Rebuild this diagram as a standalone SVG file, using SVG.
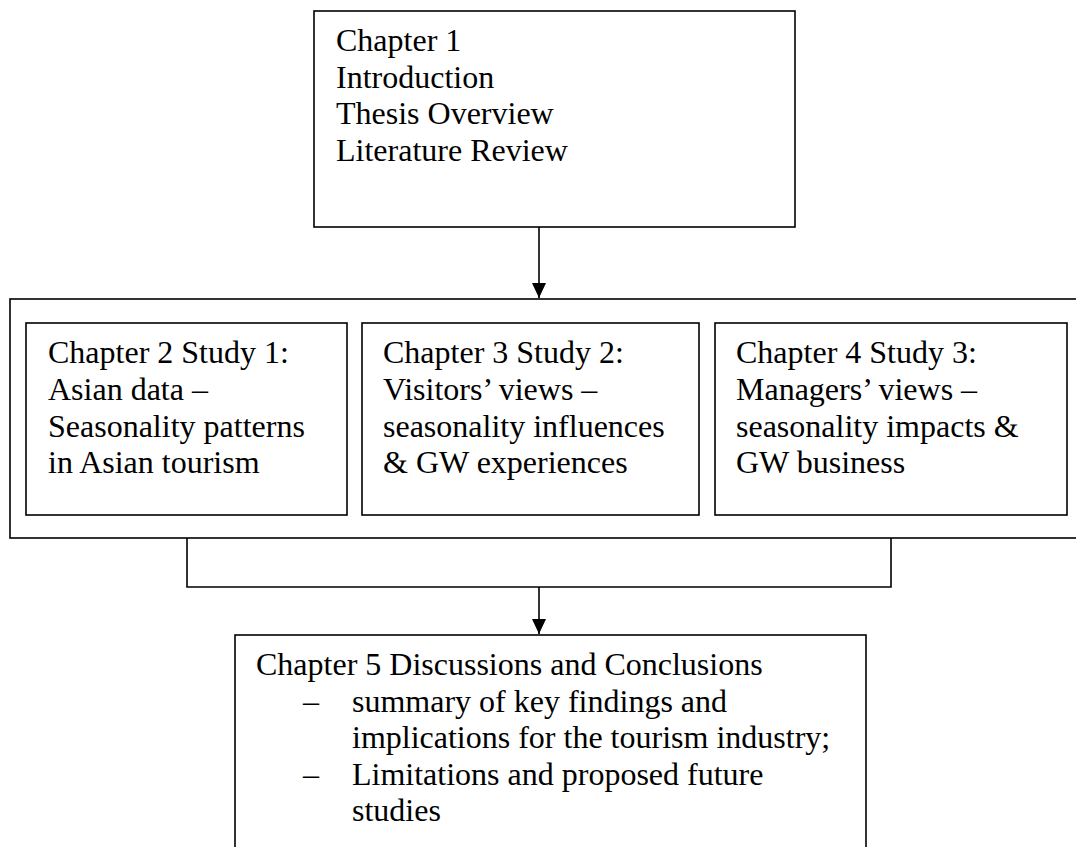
<svg xmlns="http://www.w3.org/2000/svg" width="1076" height="847" viewBox="0 0 1076 847">
  <style>
    .box { fill: #ffffff; stroke: #000000; stroke-width: 1.6; }
    .txt { font-family: "Liberation Serif", "Times New Roman", serif; font-size: 32px; fill: #000000; }
    .conn { fill: none; stroke: #000000; stroke-width: 1.6; }
  </style>
  <defs>
    <marker id="arrow" markerUnits="userSpaceOnUse" markerWidth="15" markerHeight="14" viewBox="0 0 15 14" refX="15" refY="7" orient="auto">
      <path d="M0,0 L15,7 L0,14 z" fill="#000000"/>
    </marker>
  </defs>
  <rect x="0" y="0" width="1076" height="847" fill="#ffffff"/>

  <g id="chapter1">
    <rect class="box" x="314" y="11" width="481" height="216"/>
    <text class="txt">
      <tspan x="336" y="51">Chapter 1</tspan>
      <tspan x="336" y="88">Introduction</tspan>
      <tspan x="336" y="124">Thesis Overview</tspan>
      <tspan x="336" y="161">Literature Review</tspan>
    </text>
  </g>

  <g id="studies-group">
    <rect class="box" x="10" y="299" width="1080" height="239"/>
  </g>

  <g id="chapter2">
    <rect class="box" x="26" y="323" width="321" height="192"/>
    <text class="txt">
      <tspan x="48" y="363">Chapter 2 Study 1:</tspan>
      <tspan x="48" y="400">Asian data –</tspan>
      <tspan x="48" y="437">Seasonality patterns</tspan>
      <tspan x="48" y="473">in Asian tourism</tspan>
    </text>
  </g>

  <g id="chapter3">
    <rect class="box" x="362" y="323" width="337" height="192"/>
    <text class="txt">
      <tspan x="383" y="363">Chapter 3 Study 2:</tspan>
      <tspan x="383" y="400">Visitors’ views –</tspan>
      <tspan x="383" y="437">seasonality influences</tspan>
      <tspan x="383" y="473">&amp; GW experiences</tspan>
    </text>
  </g>

  <g id="chapter4">
    <rect class="box" x="715" y="323" width="352" height="192"/>
    <text class="txt">
      <tspan x="736" y="363">Chapter 4 Study 3:</tspan>
      <tspan x="736" y="400">Managers’ views –</tspan>
      <tspan x="736" y="437">seasonality impacts &amp;</tspan>
      <tspan x="736" y="473">GW business</tspan>
    </text>
  </g>

  <g id="chapter5">
    <rect class="box" x="235" y="635" width="631" height="230"/>
    <text class="txt">
      <tspan x="256" y="675">Chapter 5 Discussions and Conclusions</tspan>
      <tspan x="303" y="712">–</tspan>
      <tspan x="352" y="712">summary of key findings and</tspan>
      <tspan x="352" y="748">implications for the tourism industry;</tspan>
      <tspan x="303" y="785">–</tspan>
      <tspan x="352" y="785">Limitations and proposed future</tspan>
      <tspan x="352" y="821">studies</tspan>
    </text>
  </g>

  <g id="connectors">
    <line class="conn" x1="539" y1="227" x2="539" y2="298" marker-end="url(#arrow)"/>
    <path class="conn" d="M187,538 V587 H891 V538"/>
    <line class="conn" x1="539" y1="587" x2="539" y2="634" marker-end="url(#arrow)"/>
  </g>
</svg>
